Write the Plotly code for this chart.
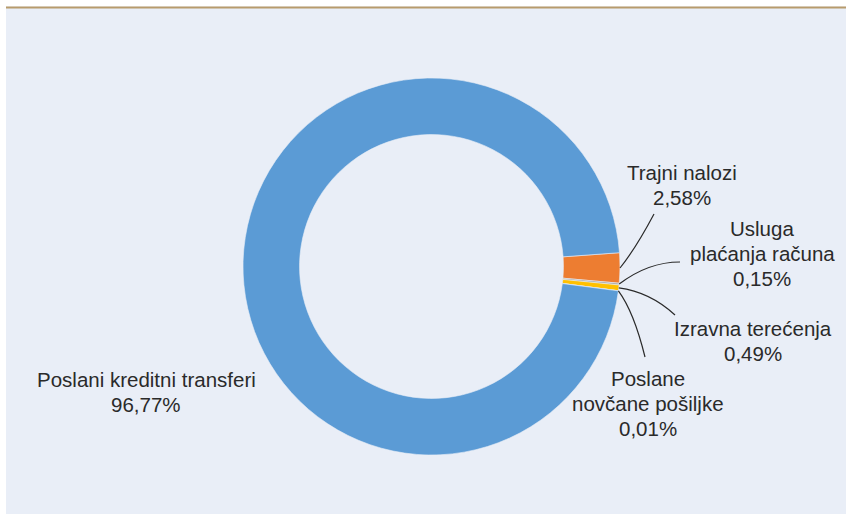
import numpy as np
import plotly.graph_objects as go

# ---- data ----
labels = ["Trajni nalozi", "Usluga plaćanja računa", "Izravna terećenja",
          "Poslane novčane pošiljke", "Poslani kreditni transferi"]
label_lines = [["Trajni nalozi"], ["Usluga", "plaćanja računa"], ["Izravna terećenja"],
               ["Poslane", "novčane pošiljke"], ["Poslani kreditni transferi"]]
values = [2.58, 0.15, 0.49, 0.01, 96.77]
colors = ["#ED7D31", "#A5A5A5", "#FFC000", "#4472C4", "#5B9BD5"]

W, H = 846, 514
CX, CY, R = 431.5, 266.5, 188.5
ROT = 85.8

fig = go.Figure()
fig.add_trace(go.Pie(
    labels=labels, values=values, sort=False, direction="clockwise",
    rotation=ROT, hole=0.70, textinfo="none", hoverinfo="label+percent",
    marker=dict(colors=colors, line=dict(color="#E9EEF7", width=0.6)),
    showlegend=False,
    domain=dict(x=[(CX - R) / W, (CX + R) / W], y=[(H - CY - R) / H, (H - CY + R) / H]),
))

# hidden pixel-coordinate axes for decorations
fig.add_trace(go.Scatter(x=[0, W], y=[0, H], mode="markers", marker=dict(opacity=0),
                         hoverinfo="skip", showlegend=False))

# leader line anchors computed from data
vals = np.array(values)
cum = np.cumsum(vals) - vals / 2
mid_deg = ROT + cum / vals.sum() * 360
ax_ = CX + R * np.sin(np.radians(mid_deg))
ay_ = CY - R * np.cos(np.radians(mid_deg))

# label line positions (first line center) and leader line end/control points
label_pos = [(682, 172), (762, 228), (753, 328), (648, 378), (146, 379)]
leader = [((654, 214), (636, 248)), ((680, 262), (648, 262)), ((675, 315), (650, 292)),
          ((645, 357), (634, 312)), None]

fmt = lambda v: f"{v:.2f}".replace(".", ",") + "%"

shapes = [
    dict(type="rect", xref="x", yref="y", x0=-2, x1=W + 2, y0=-2, y1=6.5,
         fillcolor="white", line=dict(width=0), layer="below"),
    dict(type="rect", xref="x", yref="y", x0=-2, x1=6, y0=-2, y1=H + 2,
         fillcolor="white", line=dict(width=0), layer="below"),
    dict(type="line", xref="x", yref="y", x0=6, x1=W + 2, y0=7.5, y1=7.5,
         line=dict(color="#B89B6C", width=2), layer="below"),
]
annotations = []
for i, lines in enumerate(label_lines):
    lx, ly = label_pos[i]
    for j, t in enumerate(lines + [fmt(values[i])]):
        annotations.append(dict(x=lx, y=ly + 25 * j, xref="x", yref="y", text=t,
                                showarrow=False, xanchor="center", yanchor="middle",
                                font=dict(family="Liberation Sans, Arial", size=20.5,
                                          color="#2A2A2A")))
    if leader[i] is not None:
        (ex, ey), (qx, qy) = leader[i]
        shapes.append(dict(type="path", xref="x", yref="y",
                           path=f"M {ax_[i]:.1f},{ay_[i]:.1f} Q {qx},{qy} {ex},{ey}",
                           line=dict(color="#2A2A2A", width=1.2)))

fig.update_layout(
    width=W, height=H, margin=dict(l=0, r=0, t=0, b=0),
    paper_bgcolor="#E9EEF7", plot_bgcolor="rgba(0,0,0,0)",
    xaxis=dict(range=[0, W], visible=False, fixedrange=True),
    yaxis=dict(range=[H, 0], visible=False, fixedrange=True),
    shapes=shapes, annotations=annotations,
)
fig.write_html("out.html", config={"displayModeBar": False},
               post_script="document.body.style.margin='0';document.body.style.overflow='hidden';")
